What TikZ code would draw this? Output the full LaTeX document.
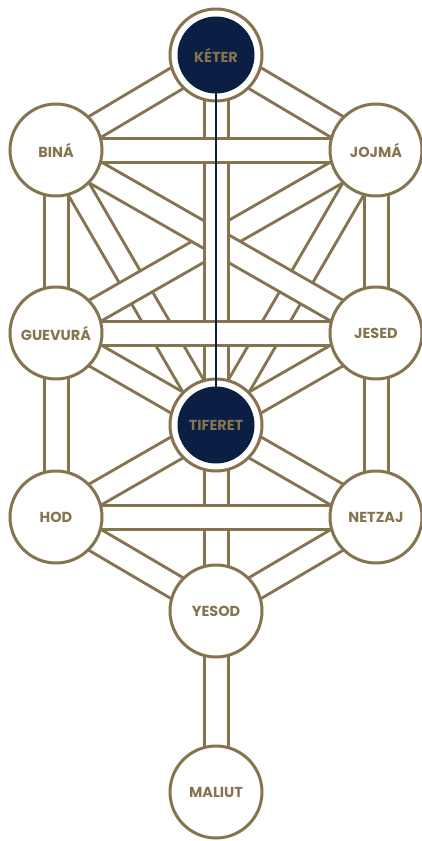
\documentclass[tikz,border=0pt]{standalone}
\usepackage{fontspec}
\setmainfont{Poppins}
\usetikzlibrary{backgrounds}
\definecolor{oro}{HTML}{86744F}
\definecolor{marino}{HTML}{0B1E43}

\begin{document}
\begin{tikzpicture}[
		x=1pt, y=-1pt,
		sefira/.style={
			circle, draw=oro, line width=3pt, fill=white, minimum size=92pt, inner sep=0pt,
			text=oro, font=\bfseries\fontsize{14.5}{14.5}\selectfont
		},
		luz/.style={
			sefira, path picture={\fill[marino] (path picture bounding box.center) circle (38.5pt);}
		},
		canal/.style={
			draw=oro, line width=3pt, double=white, double distance=21pt
		},
		eje/.style={
			draw=marino, line width=2pt
		}
		]
		\useasboundingbox (0,0) rectangle (422,841);
		
		\node[luz] (keter) at (216,55) {KÉTER};
		\node[sefira] (bina) at (56,150) {BINÁ};
		\node[sefira] (jojma) at (376,150) {JOJMÁ};
		\node[sefira] (guevura) at (56,333) {GUEVURÁ};
		\node[sefira] (jesed) at (376,333) {JESED};
		\node[luz] (tiferet) at (216,425) {TIFERET};
		\node[sefira] (hod) at (56,517) {HOD};
		\node[sefira] (netzaj) at (376,517) {NETZAJ};
		\node[sefira] (yesod) at (216,611) {YESOD};
		\node[sefira] (maliut) at (216,792) {MALIUT};
		
		\begin{pgfonlayer}{background}
			% canales hacia tiferet
			\draw[canal] (bina.center) -- (tiferet.center);
			\draw[canal] (jojma.center) -- (tiferet.center);
			\draw[canal] (guevura.center) -- (tiferet.center);
			\draw[canal] (jesed.center) -- (tiferet.center);
			\draw[canal] (hod.center) -- (tiferet.center);
			\draw[canal] (netzaj.center) -- (tiferet.center);
			% diagonales cruzadas
			\draw[canal] (guevura.center) -- (jojma.center);
			\draw[canal] (bina.center) -- (jesed.center);
			\draw[canal] (keter.center) -- (bina.center);
			\draw[canal] (keter.center) -- (jojma.center);
			\draw[canal] (hod.center) -- (yesod.center);
			\draw[canal] (netzaj.center) -- (yesod.center);
			% pilar central
			\draw[canal] (keter.center) -- (tiferet.center);
			\draw[canal] (tiferet.center) -- (yesod.center);
			\draw[canal] (yesod.center) -- (maliut.center);
			% horizontales, encima de todo
			\draw[canal] (bina.center) -- (jojma.center);
			\draw[canal] (guevura.center) -- (jesed.center);
			\draw[canal] (hod.center) -- (netzaj.center);
			% pilares laterales
			\draw[canal] (bina.center) -- (guevura.center);
			\draw[canal] (guevura.center) -- (hod.center);
			\draw[canal] (jojma.center) -- (jesed.center);
			\draw[canal] (jesed.center) -- (netzaj.center);
		\end{pgfonlayer}
		
		\draw[eje] ([yshift=-38pt]keter.center) -- ([yshift=38pt]tiferet.center);
	\end{tikzpicture}
\end{document}
